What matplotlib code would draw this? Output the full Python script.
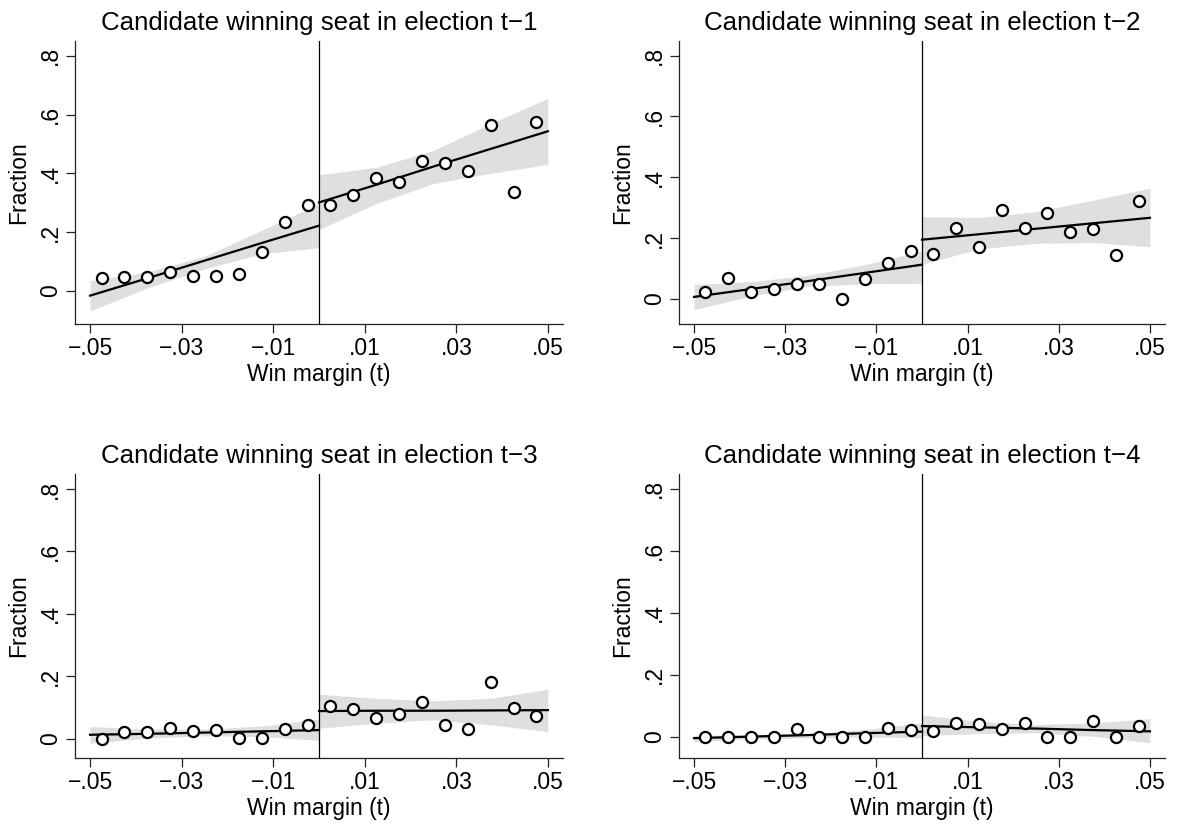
import matplotlib.pyplot as plt

plt.rcParams['font.family'] = ['Liberation Sans', 'DejaVu Sans']

# bin centres of win margin
x_bins = [-0.0475, -0.0425, -0.0375, -0.0325, -0.0275, -0.0225, -0.0175, -0.0125, -0.0075, -0.0025,
          0.0025, 0.0075, 0.0125, 0.0175, 0.0225, 0.0275, 0.0325, 0.0375, 0.0425, 0.0475]

# binned fractions, one list per lag
frac_t1 = [0.044, 0.047, 0.047, 0.065, 0.050, 0.051, 0.056, 0.132, 0.236, 0.291,
           0.292, 0.326, 0.384, 0.369, 0.443, 0.436, 0.408, 0.566, 0.335, 0.573]
frac_t2 = [0.023, 0.069, 0.022, 0.032, 0.050, 0.050, 0.000, 0.066, 0.118, 0.157,
           0.148, 0.233, 0.171, 0.292, 0.233, 0.283, 0.219, 0.231, 0.144, 0.322]
frac_t3 = [0.000, 0.022, 0.022, 0.033, 0.025, 0.026, 0.001, 0.001, 0.030, 0.044,
           0.105, 0.094, 0.065, 0.079, 0.116, 0.044, 0.032, 0.180, 0.097, 0.072]
frac_t4 = [0.000, 0.000, 0.000, 0.000, 0.024, 0.000, 0.000, 0.000, 0.029, 0.021,
           0.020, 0.046, 0.042, 0.026, 0.046, 0.000, 0.000, 0.050, 0.000, 0.035]

# fitted line and 95% CI, evaluated on each side of the cutoff
fit_x_left = [-0.05, -0.0375, -0.025, -0.0125, 0.0]
fit_x_right = [0.0, 0.0125, 0.025, 0.0375, 0.05]

fit_t1_left = [-0.016, 0.043, 0.103, 0.163, 0.222]
lo_t1_left = [-0.068, 0.010, 0.075, 0.126, 0.147]
hi_t1_left = [0.035, 0.064, 0.118, 0.206, 0.297]
fit_t1_right = [0.301, 0.361, 0.423, 0.483, 0.543]
lo_t1_right = [0.209, 0.297, 0.365, 0.400, 0.430]
hi_t1_right = [0.395, 0.420, 0.478, 0.569, 0.655]

fit_t2_left = [0.007, 0.033, 0.059, 0.086, 0.113]
lo_t2_left = [-0.035, 0.010, 0.042, 0.050, 0.052]
hi_t2_left = [0.048, 0.057, 0.078, 0.113, 0.158]
fit_t2_right = [0.195, 0.213, 0.231, 0.249, 0.267]
lo_t2_right = [0.114, 0.165, 0.183, 0.186, 0.172]
hi_t2_right = [0.271, 0.268, 0.287, 0.325, 0.364]

fit_t3_left = [0.012, 0.015, 0.019, 0.023, 0.027]
lo_t3_left = [-0.015, 0.001, 0.009, 0.006, -0.006]
hi_t3_left = [0.038, 0.031, 0.030, 0.040, 0.062]
fit_t3_right = [0.088, 0.089, 0.089, 0.090, 0.091]
lo_t3_right = [0.033, 0.049, 0.060, 0.044, 0.022]
hi_t3_right = [0.142, 0.129, 0.121, 0.129, 0.158]

fit_t4_left = [-0.004, 0.001, 0.006, 0.012, 0.017]
lo_t4_left = [-0.015, -0.006, -0.003, 0.000, -0.003]
hi_t4_left = [0.004, 0.008, 0.011, 0.024, 0.045]
fit_t4_right = [0.035, 0.031, 0.027, 0.022, 0.018]
lo_t4_right = [0.004, 0.011, 0.013, 0.002, -0.019]
hi_t4_right = [0.071, 0.050, 0.040, 0.045, 0.059]

titles = ["Candidate winning seat in election t\u22121", "Candidate winning seat in election t\u22122",
          "Candidate winning seat in election t\u22123", "Candidate winning seat in election t\u22124"]
xtick_vals = [-0.05, -0.03, -0.01, 0.01, 0.03, 0.05]
xtick_labels = ["\u2212.05", "\u2212.03", "\u2212.01", ".01", ".03", ".05"]
ytick_vals = [0, 0.2, 0.4, 0.6, 0.8]
ytick_labels = ["0", ".2", ".4", ".6", ".8"]

panels = [
    (frac_t1, fit_t1_left, lo_t1_left, hi_t1_left, fit_t1_right, lo_t1_right, hi_t1_right),
    (frac_t2, fit_t2_left, lo_t2_left, hi_t2_left, fit_t2_right, lo_t2_right, hi_t2_right),
    (frac_t3, fit_t3_left, lo_t3_left, hi_t3_left, fit_t3_right, lo_t3_right, hi_t3_right),
    (frac_t4, fit_t4_left, lo_t4_left, hi_t4_left, fit_t4_right, lo_t4_right, hi_t4_right),
]
# pixel boxes (left, top, right, bottom) and y ranges of each graph
boxes = [(75, 41, 563, 324), (679, 41, 1165, 324), (75, 474, 563, 758), (679, 474, 1165, 758)]
ylims = [(-0.1125, 0.85), (-0.082, 0.848), (-0.0625, 0.848), (-0.068, 0.848)]

W, H = 1179, 823
fig = plt.figure(figsize=(W / 100, H / 100), dpi=100)
fs = 16.5

for i, (frac, fl, ll, hl, fr, lr, hr) in enumerate(panels):
    l, t, r, b = boxes[i]
    ax = fig.add_axes([l / W, 1 - b / H, (r - l) / W, (b - t) / H])
    ax.fill_between(fit_x_left, ll, hl, color="#dfdfdf", lw=0, zorder=1)
    ax.fill_between(fit_x_right, lr, hr, color="#dfdfdf", lw=0, zorder=1)
    ax.plot(fit_x_left, fl, color="black", lw=1.6, zorder=2)
    ax.plot(fit_x_right, fr, color="black", lw=1.6, zorder=2)
    ax.axvline(0, color="black", lw=0.9, zorder=2)
    ax.plot(x_bins, frac, "o", ms=8, mfc="white", mec="black", mew=1.6, zorder=3)

    ax.set_xlim(-0.0533, 0.0533)
    ax.set_ylim(*ylims[i])
    ax.set_xticks(xtick_vals)
    ax.set_xticklabels(xtick_labels, fontsize=fs)
    ax.set_yticks(ytick_vals)
    ax.set_yticklabels(ytick_labels, fontsize=fs, rotation=90, va="center")
    ax.tick_params(length=6.5, width=0.9, color="#222222", pad=3)
    for s in ["top", "right"]:
        ax.spines[s].set_visible(False)
    for s in ["left", "bottom"]:
        ax.spines[s].set_linewidth(0.9)
        ax.spines[s].set_color("#222222")
    ax.set_xlabel("Win margin (t)", fontsize=fs, labelpad=2)
    ax.set_ylabel("Fraction", fontsize=fs, labelpad=6)
    ax.set_title(titles[i], fontsize=18.6, pad=8)

fig.savefig("out.png", dpi=100, facecolor="white")
